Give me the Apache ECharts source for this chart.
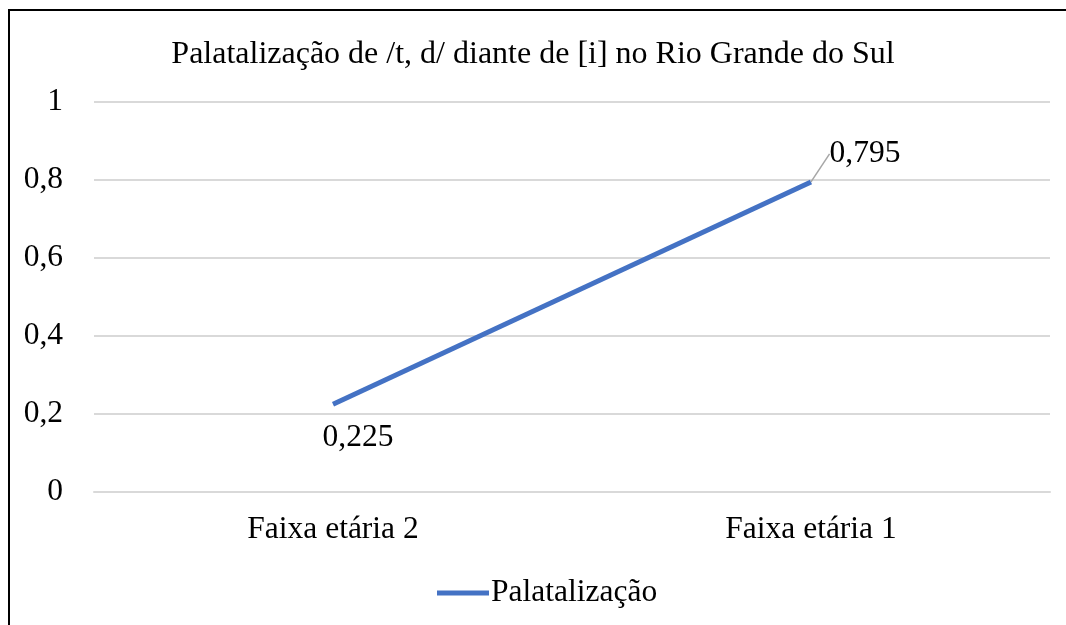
<!DOCTYPE html>
<html>
<head>
<meta charset="utf-8">
<script src="https://cdn.jsdelivr.net/npm/echarts@6/dist/echarts.min.js"></script>
<style>
  html, body { margin: 0; padding: 0; background: #fff; }
  #canvas { width: 1066px; height: 625px; }
</style>
</head>
<body>
<div id="canvas"></div>
<script>
const categories = ['Faixa etária 2', 'Faixa etária 1'];
const palatalizacao = [0.225, 0.795];
const labelShift = [[25, 54], [54, -7]];
const showLeader = [false, true];

const chart = echarts.init(document.getElementById('canvas'));
const serif = "'Liberation Serif', 'Times New Roman', serif";
const fs = 31.5;

const option = {
  animation: false,
  textStyle: { fontFamily: serif },
  title: {
    text: 'Palatalização de /t, d/ diante de [i] no Rio Grande do Sul',
    left: 'center',
    top: 34,
    textStyle: { fontFamily: serif, fontWeight: 'normal', fontSize: 32, color: '#000' },
  },
  graphic: [
    {
      type: 'rect',
      shape: { x: 9, y: 10, width: 1200, height: 800 },
      style: { fill: 'none', stroke: '#000', lineWidth: 2 },
      silent: true,
    },
  ],
  legend: {
    bottom: 11,
    left: 432,
    itemWidth: 52,
    itemHeight: 5,
    icon: 'rect',
    itemStyle: { color: '#4472c4' },
    textStyle: { fontFamily: serif, fontSize: fs, color: '#000', padding: [0, 0, 0, -3] },
    data: ['Palatalização'],
  },
  grid: { left: 94, right: 16, top: 102, bottom: 133 },
  xAxis: {
    type: 'category',
    data: categories,
    boundaryGap: true,
    axisLine: { lineStyle: { color: '#d9d9d9', width: 2 } },
    axisTick: { show: false },
    axisLabel: { fontFamily: serif, fontSize: fs, color: '#000', margin: 22 },
  },
  yAxis: {
    type: 'value',
    min: 0,
    max: 1,
    interval: 0.2,
    axisLine: { show: false },
    axisTick: { show: false },
    splitLine: { lineStyle: { color: '#d9d9d9', width: 2 } },
    axisLabel: {
      fontFamily: serif,
      fontSize: fs,
      color: '#000',
      margin: 31,
      formatter: (v) => String(Math.round(v * 10) / 10).replace('.', ','),
    },
  },
  series: [
    {
      name: 'Palatalização',
      type: 'line',
      data: palatalizacao.map((v, i) => ({ value: v, labelLine: { show: showLeader[i] } })),
      symbol: 'circle',
      symbolSize: 0,
      showSymbol: true,
      lineStyle: { color: '#4472c4', width: 5 },
      itemStyle: { color: '#4472c4' },
      label: {
        show: true,
        position: 'top',
        fontFamily: serif,
        fontSize: fs,
        color: '#000',
        formatter: (p) => String(p.value).replace('.', ','),
      },
      labelLayout: (p) => ({ dx: labelShift[p.dataIndex][0], dy: labelShift[p.dataIndex][1] }),
      labelLine: { lineStyle: { color: '#a6a6a6', width: 1.5 } },
    },
  ],
};

chart.setOption(option);

window.onresize = chart.resize;
</script>
</body>
</html>
